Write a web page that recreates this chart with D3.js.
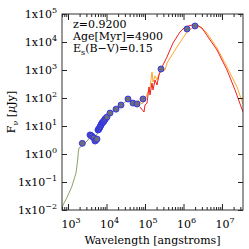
<!DOCTYPE html>
<html>
<head>
<meta charset="utf-8">
<script src="https://cdn.jsdelivr.net/npm/d3@7"></script>
<style>
  body { margin: 0; background: #fff; }
  text { font-family: "DejaVu Serif", serif; fill: #000; }
</style>
</head>
<body>
<div id="sed"></div>
<script>
// photometry points (angstrom, microJy)
var obsWave = [2350, 3727, 3950, 4150, 4450, 4740, 5020, 5300, 5660, 6010, 6200, 6380, 6570, 6770, 6980, 7190, 7400,
               7640, 7880, 8110, 8350, 8610, 8870, 9140, 9700, 10300,
               12330, 17660, 23830, 36160, 48750, 61940, 88700, 260500, 1233000, 1990000];
var obsFlux = [2.4, 4.8, 4.6, 4.4, 4.0, 3.7, 2.9, 3.1, 3.4, 7.2, 7.5, 7.8, 8.5, 9.2, 10.0, 10.9, 11.8,
               12.8, 13.3, 13.9, 14.4, 15.0, 16.3, 17.8, 19.2, 21,
               29, 40, 56, 92, 66, 61, 92, 1086, 29100, 37300];

// stellar part of the model
var starWave = [698, 741, 925, 1246, 1614, 1786, 1852, 1931, 2270, 2766, 3304, 3727, 4457, 5336, 6012, 6772,
                8107, 9705, 12330, 16640, 22440, 30270, 38400, 48750, 61940, 74130];
var starFlux = [0.0118, 0.0151, 0.0268, 0.0663, 0.21, 0.61, 1.18, 1.64, 1.93, 2.47, 3.16, 4.05, 4.4, 4.4, 6.1, 8.5,
                12.8, 17.8, 26.8, 37.3, 51.8, 72, 85, 66, 56, 51.8];

// dust model 1 (red)
var redWave = [74130, 94200, 100000, 112700, 127000, 134900, 152000, 161400, 182000, 205000, 231000, 260500,
               372000, 533000, 811000, 1094000, 1663000, 2244000, 3030000, 4330000, 7410000, 13490000, 21800000, 35100000];
var redFlux = [47.7, 31.6, 56, 66, 247, 128, 343, 193, 440, 291, 662, 1086,
               2910, 9200, 22760, 34300, 40500, 40500, 31600, 15100, 5180, 1000, 193, 31.6];

// dust model 2 (orange)
var orgWave = [65800, 83500, 100000, 119700, 134900, 152000, 161400, 182000, 205000, 231000, 276800, 330600,
               372000, 677000, 1233000, 1990000, 2685000, 4070000, 7410000, 13490000, 24550000, 35100000];
var orgFlux = [85, 61, 85, 164, 228, 849, 373, 611, 440, 720, 921, 1000,
               1778, 6620, 22760, 37300, 34300, 20960, 6110, 1280, 247, 61];

var yTicks = [1e-2, 1e-1, 1, 1e1, 1e2, 1e3, 1e4, 1e5];
var yExp = ["\u22122", "\u22121", "0", "1", "2", "3", "4", "5"];
var xTicks = [1e3, 1e4, 1e5, 1e6, 1e7];
var xExp = ["3", "4", "5", "6", "7"];

var margin = {top: 14, right: 6, bottom: 39, left: 62},
    width = 249 - margin.left - margin.right,
    height = 249 - margin.top - margin.bottom;

var svg = d3.select("#sed")
  .append("svg")
  .attr("width", 249)
  .attr("height", 249);

var g = svg.append("g")
  .attr("transform", "translate(" + margin.left + "," + margin.top + ")");

var x = d3.scaleLog().domain([698, 3.51e7]).range([0, width]);
var y = d3.scaleLog().domain([1e-2, 1e5]).range([height, 0]);

// clip the curves to the frame
g.append("clipPath").attr("id", "clip")
  .append("rect").attr("width", width).attr("height", height);

var line = d3.line()
  .x(function(d) { return x(d[0]); })
  .y(function(d) { return y(d[1]); });

function series(w, f) { return w.map(function(v, i) { return [v, f[i]]; }); }

var curves = g.append("g").attr("clip-path", "url(#clip)");
curves.append("path").datum(series(orgWave, orgFlux))
  .attr("d", line).attr("fill", "none").attr("stroke", "#ffa62b").attr("stroke-width", 1);
curves.append("path").datum(series(redWave, redFlux))
  .attr("d", line).attr("fill", "none").attr("stroke", "#f02020").attr("stroke-width", 1);
curves.append("path").datum(series(starWave, starFlux))
  .attr("d", line).attr("fill", "none").attr("stroke", "#7c9658").attr("stroke-width", 0.9);

// points
g.append("g")
  .selectAll(null)
  .data(series(obsWave, obsFlux))
  .enter()
  .append("circle")
    .attr("cx", function(d) { return x(d[0]); })
    .attr("cy", function(d) { return y(d[1]); })
    .attr("r", 3)
    .attr("fill", "#6c6c7c")
    .attr("stroke", "#3030ee")
    .attr("stroke-width", 0.9);

// minor ticks for x
var xMinor = [];
[1e2, 1e3, 1e4, 1e5, 1e6, 1e7].forEach(function(p) {
  for (var k = 2; k <= 9; k++) {
    var v = k * p;
    if (v > 698 && v < 3.51e7) xMinor.push(v);
  }
});

function styleAxis(sel) {
  sel.select(".domain").remove();
  sel.selectAll("line").attr("stroke", "#222");
}

g.append("g").attr("transform", "translate(0," + height + ")")
  .call(d3.axisBottom(x).tickValues(xTicks).tickSize(-6).tickFormat(""))
  .call(styleAxis);
g.append("g").attr("transform", "translate(0," + height + ")")
  .call(d3.axisBottom(x).tickValues(xMinor).tickSize(-3).tickFormat(""))
  .call(styleAxis);
g.append("g")
  .call(d3.axisTop(x).tickValues(xTicks).tickSize(-6).tickFormat(""))
  .call(styleAxis);
g.append("g")
  .call(d3.axisTop(x).tickValues(xMinor).tickSize(-3).tickFormat(""))
  .call(styleAxis);
g.append("g")
  .call(d3.axisLeft(y).tickValues(yTicks).tickSize(-5).tickFormat(""))
  .call(styleAxis);
g.append("g").attr("transform", "translate(" + width + ",0)")
  .call(d3.axisRight(y).tickValues(yTicks).tickSize(-5).tickFormat(""))
  .call(styleAxis);

// frame
g.append("rect")
  .attr("width", width).attr("height", height)
  .attr("fill", "none").attr("stroke", "#333").attr("stroke-width", 1);

// y tick labels
var yl = g.append("g").selectAll(null).data(yTicks).enter()
  .append("text")
    .attr("x", -5)
    .attr("y", function(d) { return y(d) + 4; })
    .attr("text-anchor", "end")
    .style("font-size", "11px");
yl.append("tspan").text("1x10");
yl.append("tspan").attr("dy", -5).style("font-size", "8px")
  .text(function(d, i) { return yExp[i]; });

// x tick labels
var xl = g.append("g").selectAll(null).data(xTicks).enter()
  .append("text")
    .attr("x", function(d) { return x(d) + 3; })
    .attr("y", height + 18)
    .attr("text-anchor", "middle")
    .style("font-size", "11px");
xl.append("tspan").text("10");
xl.append("tspan").attr("dy", -5).style("font-size", "8px")
  .text(function(d, i) { return xExp[i]; });

// axis titles
svg.append("text")
  .attr("x", margin.left + width / 2)
  .attr("y", 244)
  .attr("text-anchor", "middle")
  .style("font-size", "11px")
  .text("Wavelength [angstroms]");

var yt = svg.append("text")
  .attr("transform", "translate(15," + (margin.top + height / 2) + ") rotate(-90)")
  .attr("text-anchor", "middle")
  .style("font-size", "11px");
yt.append("tspan").text("F");
yt.append("tspan").attr("dy", 3).style("font-size", "8px").text("\u03bd");
yt.append("tspan").attr("dy", -3).text(" [");
yt.append("tspan").style("font-style", "italic").text("\u03bc");
yt.append("tspan").text("Jy]");

// annotations
var ann = g.append("g").style("font-size", "11px");
ann.append("text").attr("x", 11).attr("y", 14).text("z=0.9200");
ann.append("text").attr("x", 11).attr("y", 26).text("Age[Myr]=4900");
var eb = ann.append("text").attr("x", 11).attr("y", 38);
eb.append("tspan").text("E");
eb.append("tspan").attr("dy", 3).style("font-size", "8px").text("s");
eb.append("tspan").attr("dy", -3).text("(B\u2212V)=0.15");
</script>
</body>
</html>
